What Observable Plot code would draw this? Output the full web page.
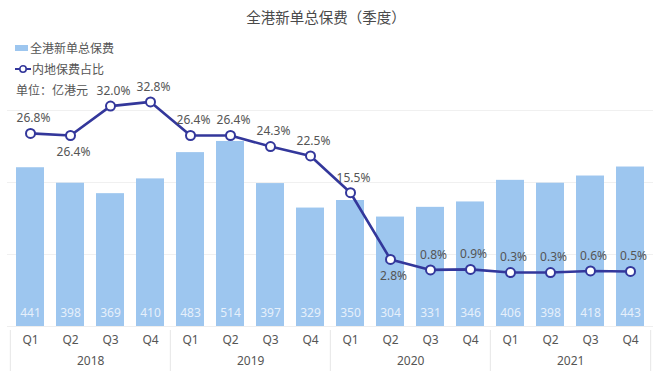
<!DOCTYPE html>
<html>
<head>
<meta charset="utf-8">
<script src="https://cdn.jsdelivr.net/npm/d3@7"></script>
<script src="https://cdn.jsdelivr.net/npm/@observablehq/plot@0.6"></script>
<style>
  html, body { margin: 0; padding: 0; background: #fff; }
  body { font-family: "Noto Sans", "Noto Sans CJK SC", sans-serif; }
  #wrap { position: relative; width: 660px; height: 371px; overflow: hidden; }
  #wrap > svg { position: absolute; left: 0; top: 0; }
  .title { position: absolute; left: 0; width: 652px; top: 6px; text-align: center; font-size: 14.5px; color: #4a4a4a; font-family: "Noto Sans CJK SC", sans-serif; }
  .lg { position: absolute; left: 15px; font-size: 12px; color: #555; font-family: "Noto Sans CJK SC", sans-serif; display: flex; align-items: center; white-space: nowrap; }
  .sw { display: inline-block; width: 13px; height: 6px; background: #9dc6ef; margin-right: 2px; }
</style>
</head>
<body>
<div id="wrap">
  <div class="title">全港新单总保费（季度）</div>
  <div class="lg" style="top:39px"><span class="sw"></span>全港新单总保费</div>
  <div class="lg" style="top:60px"><svg width="16" height="10" style="margin-right:1px"><line x1="0" y1="5" x2="16" y2="5" stroke="#33379b" stroke-width="2"/><circle cx="8" cy="5" r="3.2" fill="#fff" stroke="#33379b" stroke-width="1.6"/></svg>内地保费占比</div>
  <div class="lg" style="top:81px; left:16px">单位：亿港元</div>
</div>
<script>
const years = ["2018", "2019", "2020", "2021"];
const quarters = ["Q1", "Q2", "Q3", "Q4"];
const premiums = [441, 398, 369, 410, 483, 514, 397, 329, 350, 304, 331, 346, 406, 398, 418, 443];
const mainlandShare = [26.8, 26.4, 32.0, 32.8, 26.4, 26.4, 24.3, 22.5, 15.5, 2.8, 0.8, 0.9, 0.3, 0.3, 0.6, 0.5];

const rows = [];
years.forEach((yr, i) => quarters.forEach((q, j) => {
  const k = i * 4 + j;
  rows.push({key: yr + " " + q, year: yr, q, premium: premiums[k], share: mainlandShare[k]});
}));
// put a label below its point when the line would run through the label above it
rows.forEach((d, k) => {
  const prev = rows[k - 1], next = rows[k + 1];
  d.below = (prev && prev.share - d.share > 10) || (next && next.share - d.share > 4);
});
const keys = rows.map(d => d.key);
const W = 660, H = 371, ML = 7, MR = 7;
const step = (W - ML - MR) / keys.length;
const xOpt = {domain: keys, paddingInner: 0.3, paddingOuter: 0.15, axis: null, label: null};
const font = '"Noto Sans", "Noto Sans CJK SC", sans-serif';

const bars = Plot.plot({
  width: W, height: H,
  marginLeft: ML, marginRight: MR, marginTop: 110, marginBottom: 45,
  style: {fontFamily: font, background: "transparent"},
  x: xOpt,
  y: {domain: [0, 600], axis: null},
  marks: [
    Plot.ruleY([200, 400, 600], {stroke: "#f0f0f0", strokeWidth: 1}),
    Plot.barY(rows, {x: "key", y: "premium", fill: "#9dc6ef"}),
    Plot.text(rows, {x: "key", y: 0, text: d => String(d.premium), dy: -13, fill: "#e6f0fb", fontSize: 12}),
    Plot.axisX({tickSize: 0, tickPadding: 9, tickFormat: k => k.split(" ")[1], fontSize: 12, fill: "#555", stroke: "none", label: null}),
    Plot.ruleY([0], {stroke: "#eeeeee"}),
    Plot.ruleX(rows.filter(d => d.q === "Q1"), {x: "key", dx: -step / 2, stroke: "#e6e6e6", insetTop: 220, insetBottom: -45}),
    Plot.ruleX(rows.filter(d => d.q === "Q4" && d.year === "2021"), {x: "key", dx: step / 2, stroke: "#e6e6e6", insetTop: 220, insetBottom: -45}),
    Plot.text(rows.filter(d => d.q === "Q2"), {x: "key", y: 0, text: "year", dx: step / 2, dy: 35, fontSize: 12, fill: "#555"})
  ]
});

const line = Plot.plot({
  width: W, height: H,
  marginLeft: ML, marginRight: MR, marginTop: 89.85, marginBottom: 97.4,
  style: {fontFamily: font, background: "transparent"},
  x: xOpt,
  y: {domain: [0, 35], axis: null},
  marks: [
    Plot.line(rows, {x: "key", y: "share", stroke: "#33379b", strokeWidth: 2.6}),
    Plot.dot(rows, {x: "key", y: "share", r: 4.5, fill: "#fff", stroke: "#33379b", strokeWidth: 2}),
    Plot.text(rows.filter(d => !d.below), {x: "key", y: "share", text: d => d.share.toFixed(1) + "%", dy: -15, dx: 3, fontSize: 12, fill: "#555"}),
    Plot.text(rows.filter(d => d.below), {x: "key", y: "share", text: d => d.share.toFixed(1) + "%", dy: 17, dx: 3, fontSize: 12, fill: "#555"})
  ]
});

const wrap = document.getElementById("wrap");
wrap.insertBefore(bars, wrap.firstChild);
wrap.insertBefore(line, bars.nextSibling);
</script>
</body>
</html>
